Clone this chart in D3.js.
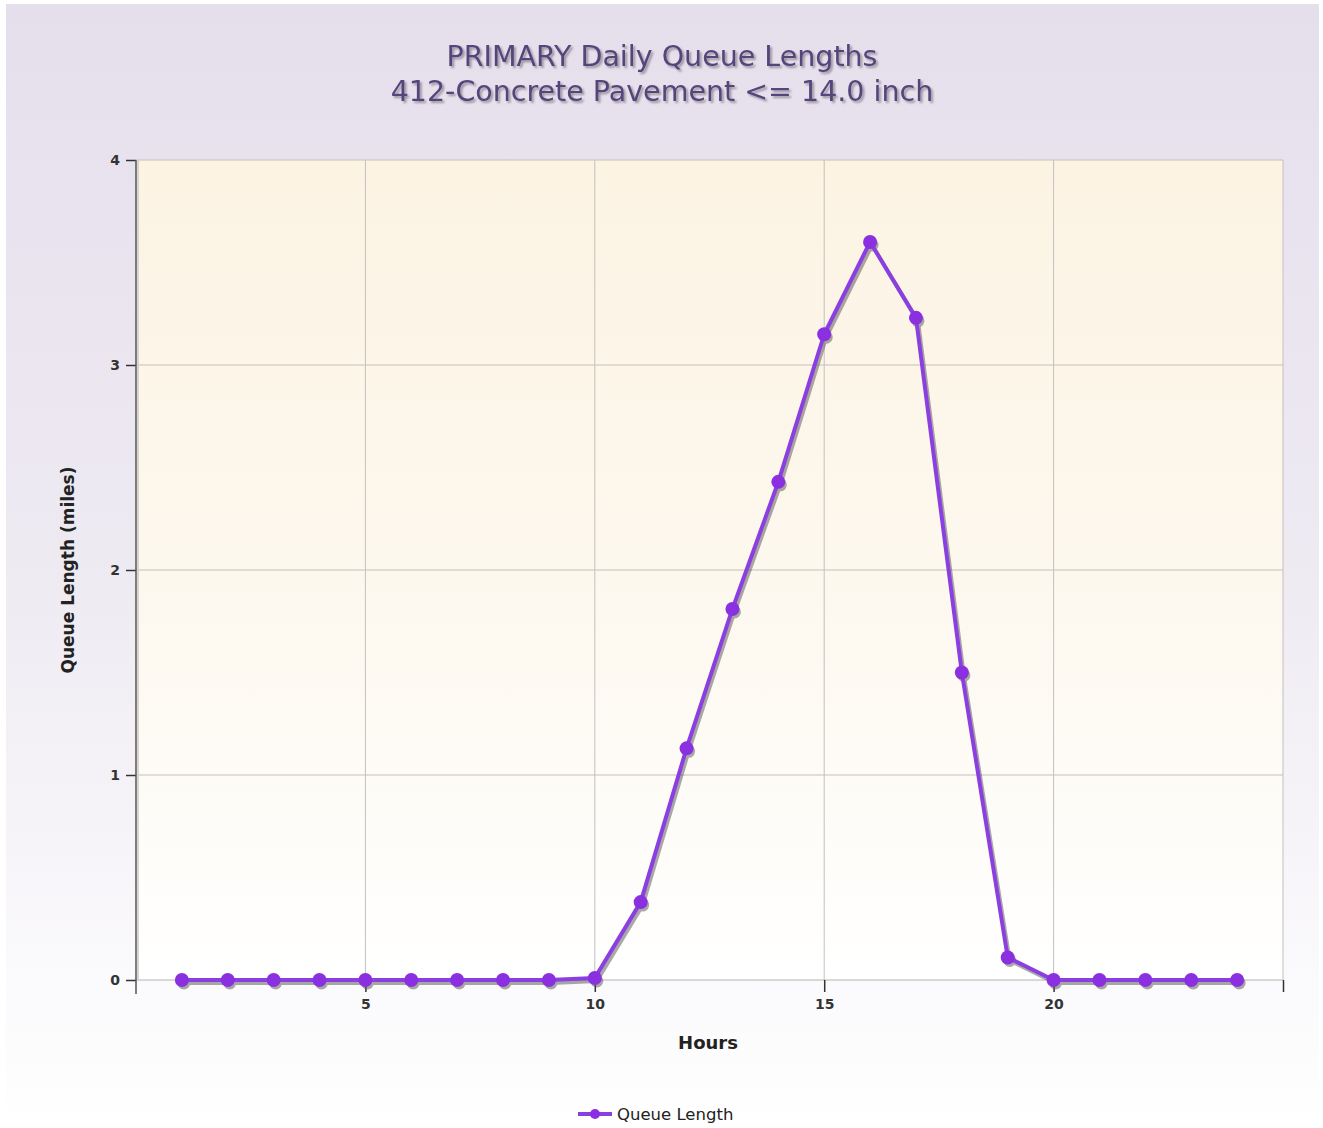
<!DOCTYPE html>
<html><head><meta charset="utf-8">
<script src="https://cdn.jsdelivr.net/npm/d3@7/dist/d3.min.js"></script>
<style>html,body{margin:0;padding:0;background:#fff;}svg{display:block;}</style>
</head><body>
<script>
const hours = [1,2,3,4,5,6,7,8,9,10,11,12,13,14,15,16,17,18,19,20,21,22,23,24];
const queueLength = [0,0,0,0,0,0,0,0,0,0.01,0.38,1.13,1.81,2.43,3.15,3.6,3.23,1.5,0.11,0,0,0,0,0];
const xTicks = [5,10,15,20,25];
const yTicks = [0,1,2,3,4];
const titleLines = ["PRIMARY Daily Queue Lengths","412-Concrete Pavement <= 14.0 inch"];
const seriesName = "Queue Length";

const W=1323,H=1128;
const m={l:136,r:1283,t:160,b:980};
const svg=d3.select("body").append("svg").attr("width",W).attr("height",H);
const defs=svg.append("defs");
const bg=defs.append("linearGradient").attr("id","bg").attr("x1",0).attr("y1",0).attr("x2",0).attr("y2",1);
bg.append("stop").attr("offset","0").attr("stop-color","#e5dfec");
bg.append("stop").attr("offset","0.5").attr("stop-color","#eeeaf2");
bg.append("stop").attr("offset","1").attr("stop-color","#ffffff");
const pg=defs.append("linearGradient").attr("id","pg").attr("x1",0).attr("y1",0).attr("x2",0).attr("y2",1);
pg.append("stop").attr("offset","0").attr("stop-color","#fcf3e3");
pg.append("stop").attr("offset","0.5").attr("stop-color","#fdf8ee");
pg.append("stop").attr("offset","1").attr("stop-color","#ffffff");
const ts=defs.append("filter").attr("id","ts").attr("x","-10%").attr("y","-30%").attr("width","120%").attr("height","160%");
ts.append("feDropShadow").attr("dx",2).attr("dy",2).attr("stdDeviation",1.2).attr("flood-color","#000").attr("flood-opacity",0.35);

svg.append("rect").attr("x",0).attr("y",0).attr("width",W).attr("height",H).attr("fill","#ffffff");
svg.append("rect").attr("x",6).attr("y",4).attr("width",W-10).attr("height",H-4).attr("fill","url(#bg)");

const x=d3.scaleLinear().domain([0,25]).range([m.l,m.r]);
const y=d3.scaleLinear().domain([0,4]).range([m.b,m.t]);

svg.append("rect").attr("x",m.l).attr("y",m.t).attr("width",m.r-m.l).attr("height",m.b-m.t).attr("fill","url(#pg)");

// grid
const g=svg.append("g");
g.selectAll(".vg").data(xTicks).join("line").attr("x1",d=>x(d)).attr("x2",d=>x(d)).attr("y1",m.t).attr("y2",m.b).attr("stroke","#c4c0bc").attr("stroke-width",1);
g.selectAll(".hg").data(yTicks.filter(d=>d>0)).join("line").attr("x1",m.l).attr("x2",m.r).attr("y1",d=>y(d)).attr("y2",d=>y(d)).attr("stroke","#c4c0bc").attr("stroke-width",1);
g.append("line").attr("x1",m.l).attr("x2",m.r).attr("y1",m.b).attr("y2",m.b).attr("stroke","#b8b4b0");
g.append("line").attr("x1",m.l+2).attr("x2",m.l+2).attr("y1",m.t).attr("y2",m.b).attr("stroke","#d8d4d0").attr("stroke-width",2);

// axes
const xAxis=d3.axisBottom(x).tickValues(xTicks).tickSize(12).tickFormat(d=>d===25?"":d);
const xa=svg.append("g").attr("transform",`translate(0,${m.b})`).call(xAxis);
xa.select(".domain").remove();
xa.selectAll(".tick line").attr("stroke","#333").attr("stroke-width",1.5);
xa.selectAll(".tick text").attr("font-family","Tahoma, 'DejaVu Sans', sans-serif").attr("font-size",14).attr("font-weight","bold").attr("fill","#333").attr("dy","0.9em").attr("y",16);

const yAxis=d3.axisLeft(y).tickValues(yTicks).tickSize(10).tickFormat(d3.format("d"));
const ya=svg.append("g").attr("transform",`translate(${m.l},0)`).call(yAxis);
ya.select(".domain").remove();
ya.selectAll(".tick line").attr("stroke","#333").attr("stroke-width",1.5);
ya.selectAll(".tick text").attr("font-family","Tahoma, 'DejaVu Sans', sans-serif").attr("font-size",14).attr("font-weight","bold").attr("fill","#333").attr("x",-16);
svg.append("line").attr("x1",m.l).attr("x2",m.l).attr("y1",m.t).attr("y2",m.b+14).attr("stroke","#555").attr("stroke-width",1.5);

// series
const data=hours.map((h,i)=>({h,v:queueLength[i]}));
const line=d3.line().x(d=>x(d.h)).y(d=>y(d.v));
const sh=svg.append("g").attr("transform","translate(2,3)").attr("opacity",0.5);
sh.append("path").datum(data).attr("d",line).attr("fill","none").attr("stroke","#555").attr("stroke-width",4);
sh.selectAll("circle").data(data).join("circle").attr("cx",d=>x(d.h)).attr("cy",d=>y(d.v)).attr("r",6.5).attr("fill","#555");
svg.append("path").datum(data).attr("d",line).attr("fill","none").attr("stroke","#8b3fe0").attr("stroke-width",4).attr("stroke-linejoin","round");
svg.selectAll(".pt").data(data).join("circle").attr("cx",d=>x(d.h)).attr("cy",d=>y(d.v)).attr("r",7).attr("fill","#8a30e0");

// titles
svg.append("g").selectAll("text").data(titleLines).join("text")
  .attr("x",662).attr("y",(d,i)=>66+i*35).attr("text-anchor","middle")
  .attr("font-family","Tahoma, 'DejaVu Sans', sans-serif").attr("font-size",28.5)
  .attr("fill","#54457a").attr("filter","url(#ts)").text(d=>d);

svg.append("text").attr("x",708).attr("y",1049).attr("text-anchor","middle")
  .attr("font-family","Tahoma, 'DejaVu Sans', sans-serif").attr("font-size",18).attr("font-weight","bold").attr("fill","#222").text("Hours");
svg.append("text").attr("transform","translate(74,570) rotate(-90)").attr("text-anchor","middle")
  .attr("font-family","Tahoma, 'DejaVu Sans', sans-serif").attr("font-size",17).attr("font-weight","bold").attr("fill","#222").text("Queue Length (miles)");

// legend
const lg=svg.append("g").attr("transform","translate(578,1114)");
lg.append("line").attr("x1",0).attr("x2",34).attr("y1",0).attr("y2",0).attr("stroke","#8b3fe0").attr("stroke-width",4);
lg.append("circle").attr("cx",17).attr("cy",0).attr("r",5).attr("fill","#8a30e0");
lg.append("text").attr("x",39).attr("y",6).attr("font-family","Tahoma, 'DejaVu Sans', sans-serif").attr("font-size",16.5).attr("fill","#222").text(seriesName);
</script>
</body></html>
